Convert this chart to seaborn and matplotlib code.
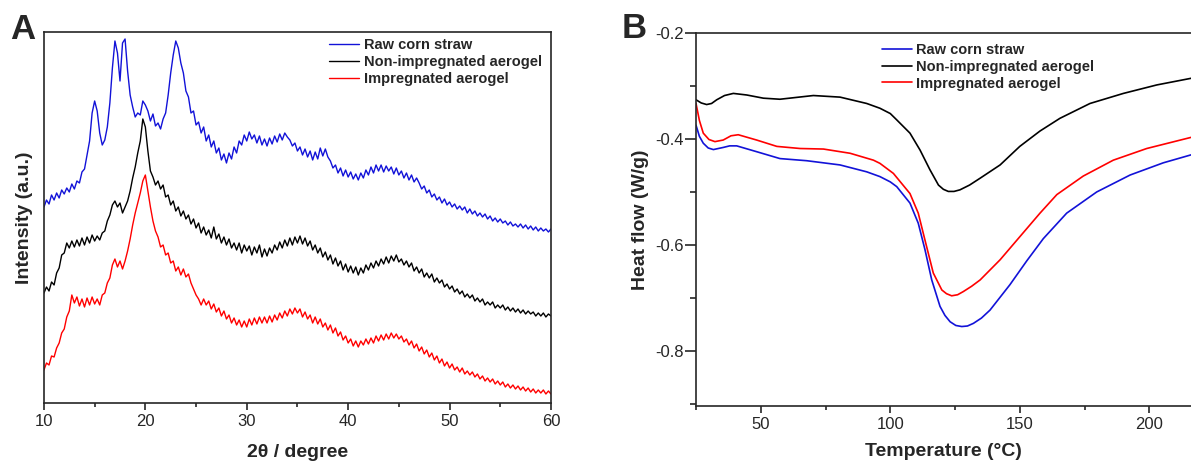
import numpy as np
import matplotlib
matplotlib.use("Agg")
import matplotlib.pyplot as plt
import seaborn as sns
from matplotlib.ticker import MultipleLocator

# --- A: XRD patterns (intensity in arbitrary units, 0.25 deg steps from 10 to 60) ---
two_theta = 10 + 0.25 * np.arange(201)

raw_xrd = [
    196, 203, 199, 208,  203, 210, 205, 213,  209, 215, 211, 219,  214, 222, 220, 231,
    234, 248, 262, 290,  302, 292, 270, 258,  263, 276, 300, 335,  362, 350, 322, 360,
    364, 332, 308, 296,  286, 290, 288, 302,  298, 292, 282, 289,  277, 280, 274, 284,
    290, 308, 330, 348,  362, 355, 340, 330,  312, 306, 290, 292,  278, 281, 270, 276,
    262, 268, 256, 262,  250, 255, 243, 249,  240, 250, 244, 256,  250, 262, 258, 268,
    262, 271, 264, 268,  260, 267, 258, 264,  257, 265, 259, 267,  261, 269, 263, 270,
    266, 263, 257, 260,  252, 256, 248, 254,  246, 252, 243, 251,  244, 255, 247, 254,
    246, 242, 235, 238,  230, 235, 227, 233,  226, 231, 224, 229,  223, 230, 225, 233,
    228, 236, 230, 238,  232, 238, 231, 237,  232, 236, 229, 235,  228, 232, 225, 230,
    223, 228, 221, 225,  220, 214, 217, 210,  213, 206, 209, 203,  206, 200, 204, 198,
    201, 196, 199, 194,  197, 193, 196, 190,  194, 189, 192, 187,  190, 186, 189, 184,
    187, 182, 185, 181,  184, 180, 182, 178,  181, 177, 179, 176,  179, 175, 178, 174,
    177, 173, 176, 172,  175, 172, 174, 171,  174,
]

nonimp_xrd = [
    110, 116, 112, 121,  118, 130, 135, 148,  150, 160, 155, 162,  156, 163, 157, 165,
    158, 166, 160, 168,  162, 167, 163, 170,  172, 182, 188, 198,  202, 196, 200, 190,
    196, 202, 212, 225,  236, 250, 262, 284,  276, 252, 232, 226,  218, 222, 214, 218,
    206, 208, 198, 202,  192, 196, 187, 192,  184, 188, 179, 184,  175, 180, 170, 176,
    168, 173, 165, 176,  164, 169, 160, 166,  158, 164, 155, 160,  153, 160, 150, 158,
    152, 157, 148, 156,  150, 158, 146, 154,  147, 155, 150, 158,  153, 161, 155, 163,
    157, 165, 158, 166,  160, 167, 159, 165,  157, 162, 153, 158,  150, 155, 146, 151,
    143, 148, 139, 145,  137, 142, 133, 139,  131, 137, 130, 136,  128, 135, 130, 138,
    133, 140, 135, 142,  137, 144, 139, 146,  140, 147, 142, 148,  141, 144, 138, 142,
    136, 140, 132, 136,  130, 134, 126, 130,  125, 129, 121, 125,  120, 123, 116, 119,
    114, 117, 111, 114,  109, 112, 106, 109,  105, 108, 102, 105,  101, 104, 98, 101,
    98, 101, 95, 98,     95, 98, 93, 96,      92, 95, 91, 94,       90, 93, 89, 92,
    89, 91, 87, 90,      87, 90, 86, 89,      87,
]

imp_xrd = [
    33, 40, 38, 47,      46, 55, 60, 70,      74, 86, 92, 108,     100, 106, 97, 104,
    96, 105, 98, 106,    99, 104, 98, 108,    110, 120, 125, 138,  144, 136, 142, 134,
    142, 152, 164, 178,  190, 200, 210, 222,  228, 212, 196, 182,  172, 166, 156, 158,
    148, 150, 140, 142,  132, 136, 128, 134,  126, 129, 120, 114,  108, 104, 98, 104,
    98, 102, 94, 99,     91, 95, 87, 92,      84, 88, 80, 85,      78, 83, 76, 82,
    76, 84, 78, 85,      79, 86, 80, 86,      80, 87, 81, 88,      83, 90, 85, 92,
    87, 94, 89, 95,      90, 94, 86, 91,      84, 88, 80, 86,      79, 84, 76, 80,
    73, 78, 70, 75,      67, 71, 63, 67,      60, 64, 57, 62,      56, 62, 58, 64,
    59, 65, 60, 67,      62, 68, 63, 69,      64, 70, 65, 69,      64, 67, 61, 64,
    58, 62, 55, 59,      52, 56, 49, 53,      46, 50, 43, 47,      40, 44, 37, 41,
    35, 39, 33, 36,      31, 35, 29, 32,      28, 31, 26, 29,      24, 27, 22, 25,
    21, 24, 19, 22,      18, 21, 16, 19,      15, 18, 14, 17,      13, 16, 12, 15,
    11, 14, 10, 13,      10, 13, 9, 12,       9,
]

# --- B: DSC curves ---
temp_raw = [25, 26.3, 27.8, 29.7, 31.7, 35.5, 38, 40.7, 48.4, 57.4, 67.7, 80.6, 90.9, 96,
            100, 102.5, 107.6, 110.8, 113.4, 116, 119.2, 121.1, 123.1, 125.3, 127.6, 129.8,
            132.1, 135.2, 138.5, 146.2, 152.7, 159.1, 168.1, 179.7, 192.6, 205.4, 216.1]
hf_raw = [-0.374, -0.395, -0.408, -0.417, -0.420, -0.416, -0.413, -0.413, -0.424, -0.437,
          -0.441, -0.449, -0.462, -0.471, -0.481, -0.490, -0.521, -0.559, -0.609, -0.666,
          -0.716, -0.733, -0.745, -0.752, -0.754, -0.753, -0.748, -0.738, -0.723, -0.675,
          -0.630, -0.588, -0.540, -0.500, -0.468, -0.445, -0.430]

temp_nonimp = [25, 27, 29.1, 31, 33, 36, 39.4, 44.6, 51, 57.4, 70.3, 80.6, 90.9, 96, 100,
               102.5, 107.6, 111.5, 115.3, 118.6, 120.5, 122.4, 124.6, 126.9, 130.6, 134.7,
               142.4, 150, 157.8, 165.5, 177.1, 190, 202.9, 216.1]
hf_nonimp = [-0.326, -0.332, -0.335, -0.333, -0.326, -0.318, -0.314, -0.317, -0.323, -0.325,
             -0.318, -0.321, -0.333, -0.342, -0.352, -0.364, -0.389, -0.421, -0.458, -0.487,
             -0.495, -0.499, -0.499, -0.496, -0.487, -0.474, -0.449, -0.414, -0.385, -0.361,
             -0.333, -0.314, -0.298, -0.2855]

temp_imp = [25, 26.3, 27.8, 30, 32.3, 35.5, 38.5, 41.3, 48.4, 56.2, 65.2, 74.2, 84.5, 93.5,
            96, 101.2, 107.6, 110.8, 113.4, 116.6, 119.9, 121.7, 123.7, 126, 128.2, 131.4,
            134.7, 142.4, 150.1, 157.8, 164.3, 174.5, 186.1, 199, 216.1]
hf_imp = [-0.333, -0.365, -0.389, -0.401, -0.405, -0.402, -0.394, -0.392, -0.402, -0.414,
          -0.418, -0.419, -0.427, -0.440, -0.446, -0.465, -0.503, -0.540, -0.591, -0.653,
          -0.685, -0.692, -0.696, -0.694, -0.688, -0.678, -0.666, -0.628, -0.584, -0.540,
          -0.505, -0.470, -0.440, -0.418, -0.397]

labels = ["Raw corn straw", "Non-impregnated aerogel", "Impregnated aerogel"]
colors = ["#1212d8", "#000000", "#ff0000"]

sns.set_style("ticks")
plt.rcParams['font.family'] = ['Liberation Sans', 'DejaVu Sans']
plt.rcParams['axes.unicode_minus'] = False

fig = plt.figure(figsize=(11.91, 4.63), dpi=100)
axA = fig.add_axes([0.0369, 0.1296, 0.4257, 0.8013])
axB = fig.add_axes([0.5844, 0.1231, 0.4156, 0.8056])

# panel A
for yv, c, lab in zip([raw_xrd, nonimp_xrd, imp_xrd], colors, labels):
    sns.lineplot(x=two_theta, y=yv, color=c, lw=1.0, label=lab, ax=axA)
axA.set_xlim(10, 60)
axA.set_ylim(0, 371)
axA.set_yticks([])
axA.xaxis.set_major_locator(MultipleLocator(10))
axA.xaxis.set_minor_locator(MultipleLocator(5))
axA.tick_params(axis='x', which='major', direction='out', length=5, width=1.2,
                labelsize=12, pad=3)
axA.tick_params(axis='x', which='minor', direction='out', length=3, width=1.2)
for s in axA.spines.values():
    s.set_linewidth(1.2)
axA.set_xlabel("2θ / degree", fontsize=14, fontweight='bold', labelpad=11)
axA.set_ylabel("Intensity (a.u.)", fontsize=14, fontweight='bold', labelpad=8)
axA.legend(loc='upper left', bbox_to_anchor=(0.563, 0.984), frameon=False,
           prop={'size': 10.5, 'weight': 'bold'}, handlelength=2.05,
           handletextpad=0.3, labelspacing=0.2, borderpad=0, borderaxespad=0)

# panel B
for tx, hv, c, lab in zip([temp_raw, temp_nonimp, temp_imp], [hf_raw, hf_nonimp, hf_imp],
                          colors, labels):
    sns.lineplot(x=tx, y=hv, color=c, lw=1.2, label=lab, ax=axB)
axB.set_xlim(25, 216.1)
axB.set_ylim(-0.904, -0.2)
axB.xaxis.set_major_locator(MultipleLocator(50))
axB.xaxis.set_minor_locator(MultipleLocator(25))
axB.yaxis.set_major_locator(MultipleLocator(0.2))
axB.yaxis.set_minor_locator(MultipleLocator(0.1))
axB.yaxis.set_major_formatter(matplotlib.ticker.FormatStrFormatter('%.1f'))
axB.tick_params(axis='x', which='major', direction='out', length=5, width=1.2,
                labelsize=12, pad=3)
axB.tick_params(axis='x', which='minor', direction='out', length=3, width=1.2)
axB.tick_params(axis='y', which='major', direction='out', length=8, width=1.2,
                labelsize=12, pad=1)
axB.tick_params(axis='y', which='minor', direction='out', length=4, width=1.2)
for s in axB.spines.values():
    s.set_linewidth(1.2)
axB.spines['right'].set_visible(False)
axB.set_xlabel("Temperature (°C)", fontsize=14, fontweight='bold', labelpad=8)
axB.set_ylabel("Heat flow (W/g)", fontsize=14, fontweight='bold', labelpad=4)
axB.legend(loc='upper left', bbox_to_anchor=(0.375, 0.974), frameon=False,
           prop={'size': 10.5, 'weight': 'bold'}, handlelength=2.05,
           handletextpad=0.3, labelspacing=0.2, borderpad=0, borderaxespad=0)

fig.text(0.0085, 0.916, "A", fontsize=25, fontweight='bold', va='baseline')
fig.text(0.522, 0.918, "B", fontsize=25, fontweight='bold', va='baseline')

fig.savefig("out.png", dpi=100)
